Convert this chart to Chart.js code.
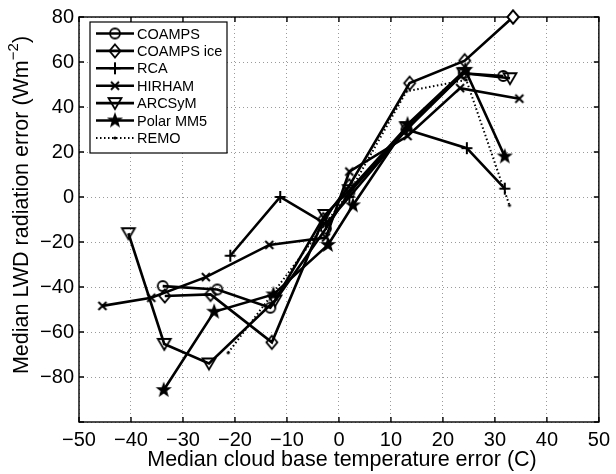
<!DOCTYPE html>
<html>
<head>
<meta charset="utf-8">
<script src="https://cdn.jsdelivr.net/npm/chart.js@4.4.3/dist/chart.umd.min.js"></script>
<style>
  html, body { margin: 0; padding: 0; background: #fff; }
  canvas { display: block; }
</style>
</head>
<body>
<canvas id="myChart" width="616" height="474"></canvas>
<script>
// values
const seriesNames = ['COAMPS', 'COAMPS ice', 'RCA', 'HIRHAM', 'ARCSyM', 'Polar MM5', 'REMO']

const coampsX = [-33.9, -23.4, -13.2, -2.5, 2, 13, 24, 31.6]
const coampsY = [-39.6, -41.1, -49.2, -14, 2, 30, 55, 53.8]

const coampsIceX = [-33.5, -24.7, -12.9, -3, 2, 13.6, 24.2, 33.5]
const coampsIceY = [-44, -43.3, -64.6, -10, 5, 50.6, 60.6, 80]

const rcaX = [-20.9, -11.3, -2.5, 2, 13, 24.6, 31.9]
const rcaY = [-26.1, 0, -12, 0, 30, 21.7, 3.7]

const hirhamX = [-45.5, -36.1, -25.6, -13.4, -2.5, 2, 13.2, 23.3, 34.7]
const hirhamY = [-48.4, -44.8, -35.6, -21.3, -18, 11.3, 27.1, 48.4, 43.7]

const arcsymX = [-40.5, -33.6, -25, -12.3, -2.7, 2, 13, 24, 32.9]
const arcsymY = [-16.1, -65.3, -74, -46, -8, 3, 31, 55, 52.8]

const polarX = [-33.7, -24, -12.6, -2.1, 2.7, 13.2, 24.3, 31.9]
const polarY = [-85.8, -51, -43.3, -21.3, -3.7, 32.3, 56.5, 18]

const remoX = [-21.3, -3, 2, 13, 24.5, 32.8]
const remoY = [-69.2, -13, 2, 47, 52, -3.7]

const xTicks = [-50, -40, -30, -20, -10, 0, 10, 20, 30, 40, 50]
const yTicks = [-100, -80, -60, -40, -20, 0, 20, 40, 60, 80]

const FONT = '"Liberation Sans", Arial, Helvetica, sans-serif'

function pts(xs, ys) {
  return xs.map((x, i) => ({x: x, y: ys[i]}))
}

// marker images, drawn like the matlab ones
function makeMarker(kind) {
  const c = document.createElement('canvas')
  c.width = 24
  c.height = 24
  const g = c.getContext('2d')
  g.translate(12, 12)
  g.strokeStyle = '#000'
  g.fillStyle = '#000'
  g.lineWidth = 1.8
  g.beginPath()
  if (kind === 'circle') {
    g.arc(0, 0, 5, 0, Math.PI * 2)
    g.stroke()
  } else if (kind === 'diamond') {
    g.moveTo(0, -6.5); g.lineTo(5.5, 0); g.lineTo(0, 6.5); g.lineTo(-5.5, 0); g.closePath()
    g.stroke()
  } else if (kind === 'plus') {
    g.lineWidth = 2
    g.moveTo(-5.5, 0); g.lineTo(5.5, 0); g.moveTo(0, -6); g.lineTo(0, 6)
    g.stroke()
  } else if (kind === 'cross') {
    g.lineWidth = 2
    g.moveTo(-4, -4); g.lineTo(4, 4); g.moveTo(4, -4); g.lineTo(-4, 4)
    g.stroke()
  } else if (kind === 'tridown') {
    g.moveTo(-6.5, -5); g.lineTo(6.5, -5); g.lineTo(0, 6); g.closePath()
    g.stroke()
  } else if (kind === 'star') {
    for (let i = 0; i < 10; i++) {
      const r = i % 2 === 0 ? 8.5 : 3.5
      const a = -Math.PI / 2 + i * Math.PI / 5
      if (i === 0) g.moveTo(r * Math.cos(a), r * Math.sin(a))
      else g.lineTo(r * Math.cos(a), r * Math.sin(a))
    }
    g.closePath()
    g.fill()
  } else if (kind === 'dot') {
    g.arc(0, 0, 1.6, 0, Math.PI * 2)
    g.fill()
  }
  return c
}

const markers = ['circle', 'diamond', 'plus', 'cross', 'tridown', 'star', 'dot'].map(makeMarker)
const allX = [coampsX, coampsIceX, rcaX, hirhamX, arcsymX, polarX, remoX]
const allY = [coampsY, coampsIceY, rcaY, hirhamY, arcsymY, polarY, remoY]

const datasets = seriesNames.map((name, i) => ({
  label: name,
  data: pts(allX[i], allY[i]),
  showLine: true,
  clip: false,
  borderColor: '#000',
  backgroundColor: '#000',
  borderWidth: name === 'REMO' ? 2 : 2.6,
  borderDash: name === 'REMO' ? [1.5, 2.5] : [],
  pointStyle: markers[i],
  pointRadius: 6,
  tension: 0
}))

const framePlugin = {
  id: 'frame',
  afterDraw(chart) {
    const ctx = chart.ctx
    const a = chart.chartArea
    const xs = chart.scales.x
    const ys = chart.scales.y
    ctx.save()
    ctx.strokeStyle = '#000'
    ctx.lineWidth = 1.4
    ctx.strokeRect(a.left, a.top, a.right - a.left, a.bottom - a.top)
    ctx.beginPath()
    xTicks.forEach(v => {
      const p = xs.getPixelForValue(v)
      ctx.moveTo(p, a.bottom); ctx.lineTo(p, a.bottom - 5)
      ctx.moveTo(p, a.top); ctx.lineTo(p, a.top + 5)
    })
    yTicks.forEach(v => {
      const p = ys.getPixelForValue(v)
      ctx.moveTo(a.left, p); ctx.lineTo(a.left + 5, p)
      ctx.moveTo(a.right, p); ctx.lineTo(a.right - 5, p)
    })
    ctx.stroke()

    // the top diamond sits on the frame, redraw it over the border
    const meta = chart.getDatasetMeta(1)
    const last = meta.data[meta.data.length - 1]
    const dm = markers[1]
    ctx.fillStyle = '#fff'
    ctx.save()
    ctx.beginPath()
    ctx.moveTo(last.x, last.y - 6); ctx.lineTo(last.x + 5, last.y); ctx.lineTo(last.x, last.y + 6); ctx.lineTo(last.x - 5, last.y); ctx.closePath()
    ctx.fill()
    ctx.restore()
    ctx.drawImage(dm, last.x - dm.width / 2, last.y - dm.height / 2)

    // axis titles
    ctx.fillStyle = '#000'
    ctx.font = '21.5px ' + FONT
    ctx.textAlign = 'center'
    ctx.textBaseline = 'middle'
    ctx.fillText('Median cloud base temperature error (C)', 342, 460)

    ctx.save()
    ctx.translate(22, 205)
    ctx.rotate(-Math.PI / 2)
    const main = 'Median LWD radiation error (Wm'
    const sup = '\u22122'
    const tail = ')'
    ctx.font = '21.5px ' + FONT
    const w1 = ctx.measureText(main).width
    const w3 = ctx.measureText(tail).width
    ctx.font = '15px ' + FONT
    const w2 = ctx.measureText(sup).width
    let x0 = -(w1 + w2 + w3) / 2
    ctx.textAlign = 'left'
    ctx.font = '21.5px ' + FONT
    ctx.fillText(main, x0, 0)
    ctx.font = '15px ' + FONT
    ctx.fillText(sup, x0 + w1, -8)
    ctx.font = '21.5px ' + FONT
    ctx.fillText(tail, x0 + w1 + w2, 0)
    ctx.restore()

    // legend box
    const bx = 90, by = 22, bw = 137, bh = 131
    ctx.fillStyle = '#fff'
    ctx.fillRect(bx, by, bw, bh)
    ctx.strokeStyle = '#000'
    ctx.lineWidth = 1.2
    ctx.strokeRect(bx, by, bw, bh)
    ctx.font = '14.5px ' + FONT
    ctx.textAlign = 'left'
    ctx.textBaseline = 'middle'
    chart.data.datasets.forEach((ds, i) => {
      const yy = 33.5 + i * 17.4
      ctx.strokeStyle = '#000'
      ctx.lineWidth = ds.borderWidth
      ctx.setLineDash(ds.borderDash)
      ctx.beginPath()
      ctx.moveTo(96, yy)
      ctx.lineTo(134, yy)
      ctx.stroke()
      ctx.setLineDash([])
      const m = ds.pointStyle
      ctx.drawImage(m, 115 - m.width / 2, yy - m.height / 2)
      ctx.fillStyle = '#000'
      ctx.fillText(ds.label, 137, yy + 1)
    })
    ctx.restore()
  }
}

const ctx = document.getElementById('myChart')
new Chart(ctx, {
  type: 'scatter',
  data: {datasets: datasets},
  options: {
    responsive: false,
    animation: false,
    events: [],
    layout: {padding: {top: 13, right: 13, left: 0, bottom: 0}},
    plugins: {legend: {display: false}, tooltip: {enabled: false}},
    scales: {
      x: {
        type: 'linear',
        min: -50,
        max: 50,
        afterFit: s => { s.height = 52 },
        afterBuildTicks: s => { s.ticks = xTicks.map(v => ({value: v})) },
        grid: {color: '#9a9a9a', lineWidth: 1, drawTicks: false},
        border: {display: false, dash: [1, 3]},
        ticks: {
          padding: 6,
          color: '#000',
          font: {family: FONT, size: 20},
          callback: v => String(v).replace('-', '\u2212')
        }
      },
      y: {
        type: 'linear',
        min: -100,
        max: 80,
        afterFit: s => { s.width = 79 },
        afterBuildTicks: s => { s.ticks = yTicks.map(v => ({value: v})) },
        grid: {color: '#9a9a9a', lineWidth: 1, drawTicks: false},
        border: {display: false, dash: [1, 3]},
        ticks: {
          padding: 5,
          color: '#000',
          font: {family: FONT, size: 20},
          callback: v => v === -100 ? '' : String(v).replace('-', '\u2212')
        }
      }
    }
  },
  plugins: [framePlugin]
})
</script>
</body>
</html>
